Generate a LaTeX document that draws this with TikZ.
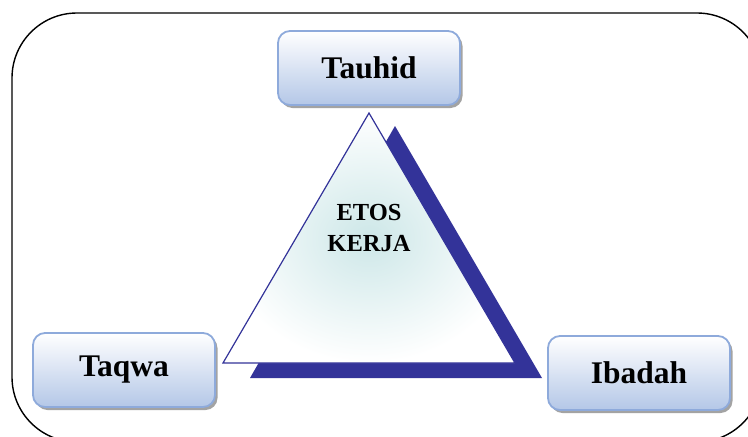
\documentclass[tikz,border=0pt]{standalone}
\usepackage{fontspec}
\setmainfont{Liberation Serif}
\usetikzlibrary{shadows}
\definecolor{triblue}{HTML}{333399}
\definecolor{boxline}{HTML}{8EAADB}
\definecolor{boxfill}{HTML}{B4C7E7}
\definecolor{tealmid}{HTML}{CDE7E8}
\begin{document}
\begin{tikzpicture}
[x=1pt,y=-1pt%
,pillar/.style={draw=boxline,%
	line width=1.8pt,%
	rounded corners=12pt,%
	top color=white,%
	bottom color=boxfill,%
	minimum width=182pt,%
	minimum height=74pt,%
	font=\fontsize{31.5}{36}\selectfont\bfseries,%
	drop shadow={shadow xshift=2.5pt,shadow yshift=-3pt,fill=black!45,opacity=.8}}%
,core/.style={align=center,%
	font=\fontsize{24.5}{31}\selectfont\bfseries}]
\useasboundingbox (0,0) rectangle (748,437);
% frame
\draw[line width=1.4pt,rounded corners=65pt] (12,13) rectangle (762,442);
% triangle corners
\coordinate (apex) at (369,113);
\coordinate (left) at (223,363);
\coordinate (right) at (515,363);
\fill[triblue] ([shift={(26,13)}]apex) -- ([shift={(27,15)}]left) -- ([shift={(27,15)}]right) -- cycle;
\shade[inner color=tealmid,outer color=white,draw=triblue,line width=1.2pt] (apex) -- (left) -- (right) -- cycle;
\node[core] (etos) at (369,228) {ETOS\\KERJA};
% the three pillars
\node[pillar] (tauhid) at (369,68) {Tauhid};
\node[pillar] (taqwa) at (124,370) {Taqwa};
\node[pillar] (ibadah) at (639,373) {Ibadah};
\end{tikzpicture}
\end{document}
